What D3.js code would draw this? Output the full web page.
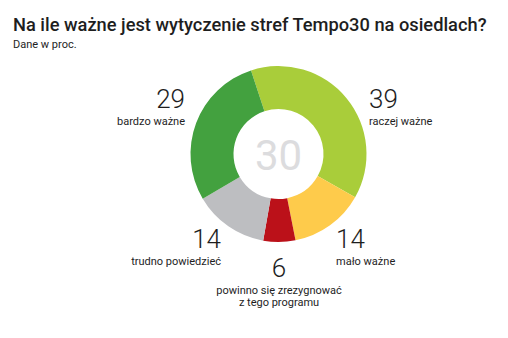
<!DOCTYPE html>
<html>
<head>
<meta charset="utf-8">
<script src="https://cdn.jsdelivr.net/npm/d3@7"></script>
<style>
  html, body { margin: 0; padding: 0; background: #fff; }
  svg { display: block; }
</style>
</head>
<body>
<svg id="chart" width="508" height="338"></svg>
<script>
// Survey answers (percent), in drawing order clockwise
const categories = ["raczej ważne", "mało ważne", "powinno się zrezygnować z tego programu", "trudno powiedzieć", "bardzo ważne"];
const values = [39, 14, 6, 14, 29];
const colors = ["#a9cd3a", "#fecb4b", "#bb1119", "#bdbec1", "#43a13f"];
const centerLabel = "30";

const svg = d3.select("#chart");
const cx = 278.5, cy = 154, rOuter = 88, rInner = 45;
const font = "Roboto, 'Liberation Sans', sans-serif";

const title = svg.append("text")
  .attr("x", 13).attr("y", 31)
  .attr("font-family", font)
  .attr("font-weight", 500)
  .attr("font-size", 19.5)
  .attr("fill", "#1e1e1e")
  .text("Na ile ważne jest wytyczenie stref Tempo30 na osiedlach?");
// keep the title within the available width
const tw = title.node().getComputedTextLength();
if (tw > 474) title.attr("font-size", 19.5 * 474 / tw);

svg.append("text")
  .attr("x", 13).attr("y", 48)
  .attr("font-family", font)
  .attr("font-size", 11)
  .attr("fill", "#1e1e1e")
  .text("Dane w proc.");

const pie = d3.pie().sort(null)
  .startAngle(-18.2 * Math.PI / 180)
  .endAngle((360 - 18.2) * Math.PI / 180);
const arc = d3.arc().innerRadius(rInner).outerRadius(rOuter);

const g = svg.append("g").attr("transform", `translate(${cx},${cy})`);
g.selectAll("path")
  .data(pie(values))
  .join("path")
  .attr("d", arc)
  .attr("fill", (d, i) => colors[i]);

g.append("text")
  .attr("text-anchor", "middle")
  .attr("y", 16)
  .attr("font-family", font)
  .attr("font-size", 42)
  .attr("fill", "#dcdcde")
  .text(centerLabel);

// Label placement: number above a caption, per slice
const labelPos = [
  { x: 369, y: 108, anchor: "start" },
  { x: 336, y: 248, anchor: "start" },
  { x: 279, y: 277, anchor: "middle" },
  { x: 221, y: 248, anchor: "end" },
  { x: 185, y: 108, anchor: "end" }
];
const captionLines = [
  ["raczej ważne"],
  ["mało ważne"],
  ["powinno się zrezygnować", "z tego programu"],
  ["trudno powiedzieć"],
  ["bardzo ważne"]
];

values.forEach((v, i) => {
  const p = labelPos[i];
  svg.append("text")
    .attr("x", p.x).attr("y", p.y)
    .attr("text-anchor", p.anchor)
    .attr("font-family", font)
    .attr("font-weight", 300)
    .attr("font-size", 26)
    .attr("fill", "#1e1e1e")
    .text(v);
  captionLines[i].forEach((line, j) => {
    svg.append("text")
      .attr("x", p.x).attr("y", p.y + 17 + j * 12)
      .attr("text-anchor", p.anchor)
      .attr("font-family", font)
      .attr("font-size", 11)
      .attr("fill", "#1e1e1e")
      .text(line);
  });
});
</script>
</body>
</html>
